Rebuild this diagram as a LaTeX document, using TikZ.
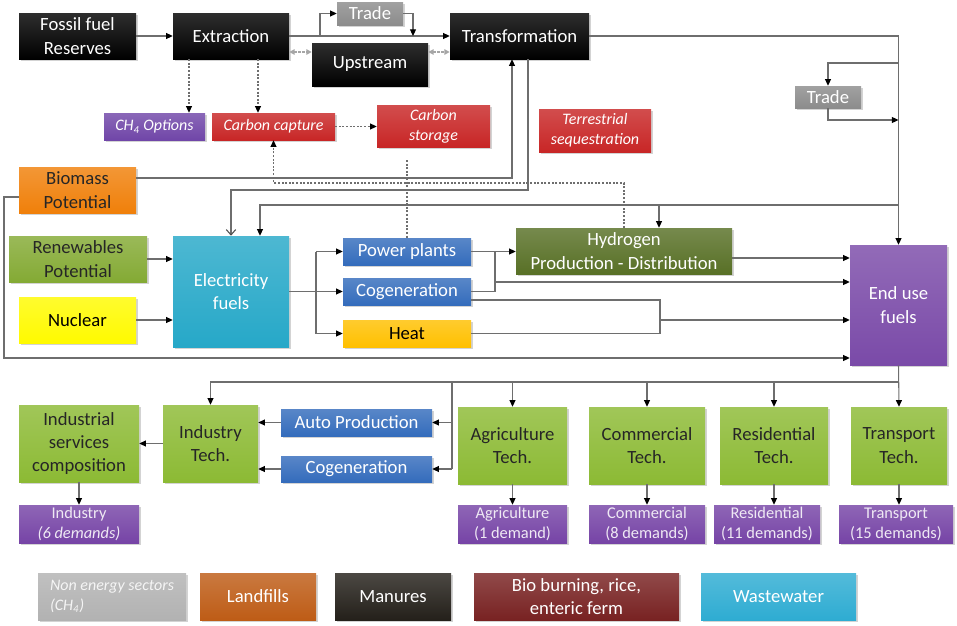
\documentclass[tikz,border=0pt]{standalone}
\usepackage{fontspec}
\setmainfont{Carlito}
\usetikzlibrary{arrows.meta}
\usetikzlibrary{shadows}

\definecolor{tradegray}{RGB}{140,140,140}
\definecolor{ch4purple}{RGB}{112,70,168}
\definecolor{capred}{RGB}{200,38,38}
\definecolor{bioorange}{RGB}{240,128,10}
\definecolor{renewgreen}{RGB}{132,170,52}
\definecolor{nucyellow}{RGB}{255,250,0}
\definecolor{eleccyan}{RGB}{38,168,200}
\definecolor{plantblue}{RGB}{52,108,188}
\definecolor{heatgold}{RGB}{255,192,0}
\definecolor{hydrogreen}{RGB}{88,112,38}
\definecolor{endpurple}{RGB}{122,74,168}
\definecolor{techgreen}{RGB}{140,186,52}
\definecolor{demandpurple}{RGB}{118,68,166}
\definecolor{legendgray}{RGB}{178,178,178}
\definecolor{landfillbrown}{RGB}{190,92,22}
\definecolor{manuredark}{RGB}{36,32,26}
\definecolor{bioburnred}{RGB}{120,34,34}
\definecolor{wastecyan}{RGB}{46,172,210}
\definecolor{linegray}{RGB}{110,110,110}

\tikzset{
    box/.style={inner sep=1pt, align=center, drop shadow={opacity=0.35, shadow xshift=1.2pt, shadow yshift=-1.2pt}},
    colbox/.style={box, top color=#1!82!white, bottom color=#1},
    bw/.style={minimum width=#1*0.75pt},
    bh/.style={minimum height=#1*0.75pt},
    big/.style={font=\fontsize{14}{17.5}\selectfont},
    small/.style={font=\fontsize{12}{15}\selectfont\itshape},
    demand/.style={font=\fontsize{12.3}{15}\selectfont},
    arr/.style={draw=linegray, line width=0.8pt, -{Triangle[length=5pt, width=4.5pt, color=black]}},
    ln/.style={draw=linegray, line width=0.8pt},
    openarr/.style={draw=linegray, line width=0.8pt, -{Straight Barb[length=4pt, width=7pt, color=black!70]}},
    dotarr/.style={draw=linegray, line width=0.8pt, dash pattern=on 1.5pt off 1.2pt, -{Triangle[length=5pt, width=4.5pt, color=black]}},
    dotln/.style={draw=linegray, line width=0.8pt, dash pattern=on 1.5pt off 1.2pt},
    gdbl/.style={draw=black!35, line width=1pt, dash pattern=on 2pt off 1pt, {Triangle[length=4pt, width=4pt]}-{Triangle[length=4pt, width=4pt]}}
}

\begin{document}
\begin{tikzpicture}[x=0.75pt, y=-0.75pt]
    \useasboundingbox (0,0) rectangle (957,625);

    % Fossil fuel chain
    \node[colbox=black, text=white, big, bw=117, bh=46] (fossil) at (77.5,36) {Fossil fuel\\Reserves};
    \node[colbox=black, text=white, big, bw=116, bh=46] (extr) at (231,36) {Extraction};
    \node[colbox=tradegray, text=white, big, bw=66, bh=23] (tradeA) at (370,13.5) {Trade};
    \node[colbox=black, text=white, big, bw=116, bh=43] (upstr) at (370,64.5) {Upstream};
    \node[colbox=black, text=white, big, bw=139, bh=46] (transf) at (519.5,36) {Transformation};

    % Options, capture and storage
    \node[colbox=ch4purple, text=white, small, bw=101, bh=27] (ch4) at (154.5,126.5) {CH\textsubscript{4} Options};
    \node[colbox=capred, text=white, small, bw=123, bh=27] (ccap) at (273.5,126.5) {Carbon capture};
    \node[colbox=capred, text=white, small, bw=113, bh=42] (cstor) at (433.5,126) {Carbon\\storage};
    \node[colbox=capred, text=white, small, bw=112, bh=43] (terr) at (595,130.5) {Terrestrial\\sequestration};
    \node[colbox=tradegray, text=white, big, bw=66, bh=22] (tradeB) at (828,97) {Trade};

    % Primary resources and conversion
    \node[colbox=bioorange, text=black!85, big, bw=117, bh=46] (biom) at (77.5,190) {Biomass\\Potential};
    \node[colbox=renewgreen, text=black!85, big, bw=138, bh=46] (renew) at (78,259) {Renewables\\Potential};
    \node[colbox=nucyellow, text=black, big, bw=117, bh=46] (nucl) at (77.5,320) {Nuclear};
    \node[colbox=eleccyan, text=white, big, bw=116, bh=111] (elec) at (231,291.5) {Electricity\\fuels};
    \node[colbox=plantblue, text=white, big, bw=128, bh=27] (pplant) at (407,251.5) {Power plants};
    \node[colbox=plantblue, text=white, big, bw=128, bh=27] (cogA) at (407,291.5) {Cogeneration};
    \node[colbox=heatgold, text=black, big, bw=128, bh=27] (heat) at (407,333.5) {Heat};
    \node[colbox=hydrogreen, text=white, big, bw=216, bh=46] (hydro) at (624,251) {Hydrogen\\Production - Distribution};
    \node[colbox=endpurple, text=white, big, bw=97, bh=120] (enduse) at (898.5,305) {End use\\fuels};

    % Sector technologies
    \node[colbox=techgreen, text=black!85, big, bw=120, bh=77] (indserv) at (79,443.5) {Industrial\\services\\composition};
    \node[colbox=techgreen, text=black!85, big, bw=95, bh=77] (indtech) at (210.5,443.5) {Industry\\Tech.};
    \node[colbox=plantblue, text=white, big, bw=151, bh=27] (auto) at (356.5,422.5) {Auto Production};
    \node[colbox=plantblue, text=white, big, bw=151, bh=26] (cogB) at (356.5,469) {Cogeneration};
    \node[colbox=techgreen, text=black!85, big, bw=109, bh=77] (agri) at (512.5,445.5) {Agriculture\\Tech.};
    \node[colbox=techgreen, text=black!85, big, bw=116, bh=77] (comm) at (647,445.5) {Commercial\\Tech.};
    \node[colbox=techgreen, text=black!85, big, bw=108, bh=77] (resi) at (774,445.5) {Residential\\Tech.};
    \node[colbox=techgreen, text=black!85, big, bw=96, bh=77] (tran) at (899,445.5) {Transport\\Tech.};

    % Demands
    \node[colbox=demandpurple, text=white!88!demandpurple, demand, bw=120, bh=38] (dInd) at (79,524) {Industry\\\textit{(6 demands)}};
    \node[colbox=demandpurple, text=white!88!demandpurple, demand, bw=109, bh=38] (dAgr) at (512.5,524) {Agriculture\\(1 demand)};
    \node[colbox=demandpurple, text=white!88!demandpurple, demand, bw=116, bh=38] (dCom) at (647,524) {Commercial\\(8 demands)};
    \node[colbox=demandpurple, text=white!88!demandpurple, demand, bw=106, bh=38] (dRes) at (767,524) {Residential\\(11 demands)};
    \node[colbox=demandpurple, text=white!88!demandpurple, demand, bw=114, bh=38] (dTra) at (896,524) {Transport\\(15 demands)};

    % Non energy sectors
    \node[colbox=legendgray, text=white!92!gray, small, align=left, bw=148, bh=47] (lNon) at (112,596.5) {Non energy sectors\\(CH\textsubscript{4})};
    \node[colbox=landfillbrown, text=white, big, bw=116, bh=47] (lLand) at (258,596.5) {Landfills};
    \node[colbox=manuredark, text=white, big, bw=116, bh=47] (lMan) at (393,596.5) {Manures};
    \node[colbox=bioburnred, text=white, big, bw=205, bh=47] (lBio) at (576.5,596.5) {Bio burning, rice,\\enteric ferm};
    \node[colbox=wastecyan, text=white, big, bw=155, bh=47] (lWas) at (778.5,596.5) {Wastewater};

    % Junction points
    \coordinate (trA) at (320,36);
    \coordinate (trAin) at (413,36);
    \coordinate (gy) at (0,52);
    \coordinate (chx) at (189,0);
    \coordinate (ccx) at (258,0);
    \coordinate (dty) at (0,183);
    \coordinate (bmy) at (0,178);
    \coordinate (bmx) at (512,0);
    \coordinate (tex) at (528,0);
    \coordinate (tey) at (0,190);
    \coordinate (t2y) at (0,63);
    \coordinate (t2o) at (0,120);
    \coordinate (fy) at (0,205);
    \coordinate (ex2) at (260,0);
    \coordinate (hyj) at (659,205);
    \coordinate (ebx) at (316,0);
    \coordinate (pjx) at (495,0);
    \coordinate (pjy) at (0,282);
    \coordinate (hyo) at (0,258);
    \coordinate (cgy) at (0,300);
    \coordinate (chx2) at (660,0);
    \coordinate (chy) at (0,320);
    \coordinate (bly) at (0,197);
    \coordinate (blx) at (4,0);
    \coordinate (bly2) at (0,358);
    \coordinate (busy) at (0,382);
    \coordinate (cbx) at (452,0);
    \coordinate (csy) at (0,160);

    % Top flows
    \draw[arr] (fossil) -- (extr);
    \draw[arr] (extr) -- (transf);
    \draw[arr] (trA) |- (tradeA.west);
    \draw[arr] (tradeA.east) -| (trAin);
    \draw[gdbl] (extr.east |- gy) -- (upstr.west |- gy);
    \draw[gdbl] (upstr.east |- gy) -- (transf.west |- gy);
    \draw[dotarr] (extr.south -| chx) -- (ch4.north -| chx);
    \draw[dotarr] (extr.south -| ccx) -- (ccap.north -| ccx);
    \draw[dotarr] (ccap.east) -- (cstor.west |- ccap.east);
    \draw[dotln] (pplant.north |- csy) -- (pplant.north);
    \draw[dotarr] (hydro.north) -- (hydro.north |- dty) -| (ccap.south);

    % Trunk to end use
    \draw[arr] (transf.east) -| (enduse.north);
    \draw[arr] (enduse.north |- t2y) -| (tradeB.north);
    \draw[arr] (tradeB.south) |- (enduse.north |- t2o);
    \draw[arr] (enduse.north |- fy) -| (elec.north -| ex2);
    \draw[arr] (hyj) -- (hydro.north -| hyj);
    \draw[arr] (biom.east |- bmy) -| (transf.south -| bmx);
    \draw[openarr] (transf.south -| tex) |- (elec.north |- tey) -- (elec.north);

    % Electricity side
    \draw[arr] (renew.east) -- (elec.west |- renew.east);
    \draw[arr] (nucl.east) -- (elec.west |- nucl.east);
    \draw[arr] (elec.east) -- (cogA.west);
    \draw[ln] (ebx |- pplant) -- (ebx |- heat);
    \draw[arr] (ebx |- pplant) -- (pplant.west);
    \draw[arr] (ebx |- heat) -- (heat.west);
    \draw[arr] (pplant.east) -- (hydro.west |- pplant.east);
    \draw[ln] (cogA.east) -| (pjx |- pplant);
    \draw[arr] (pjx |- pjy) -- (enduse.west |- pjy);
    \draw[arr] (hydro.east |- hyo) -- (enduse.west |- hyo);
    \draw[ln] (cogA.east |- cgy) -| (chx2 |- heat) -- (heat.east);
    \draw[arr] (chx2 |- chy) -- (enduse.west |- chy);
    \draw[arr] (biom.west |- bly) -| (blx |- bly2) -- (enduse.west |- bly2);

    % End use to sectors
    \draw[arr] (enduse.south) -- (tran.north);
    \draw[arr] (enduse.south |- busy) -| (indtech.north);
    \draw[arr] (agri.north |- busy) -- (agri.north);
    \draw[arr] (comm.north |- busy) -- (comm.north);
    \draw[arr] (resi.north |- busy) -- (resi.north);
    \draw[ln] (cbx |- busy) -- (cbx |- cogB);
    \draw[arr] (cbx |- auto) -- (auto.east);
    \draw[arr] (cbx |- cogB) -- (cogB.east);
    \draw[arr] (auto.west) -- (indtech.east |- auto.west);
    \draw[arr] (cogB.west) -- (indtech.east |- cogB.west);
    \draw[arr] (indtech.west) -- (indserv.east);

    % Sectors to demands
    \draw[arr] (indserv.south) -- (dInd.north);
    \draw[arr] (agri.south) -- (dAgr.north);
    \draw[arr] (comm.south) -- (dCom.north);
    \draw[arr] (resi.south) -- (dRes.north -| resi.south);
    \draw[arr] (tran.south) -- (dTra.north -| tran.south);
\end{tikzpicture}
\end{document}
